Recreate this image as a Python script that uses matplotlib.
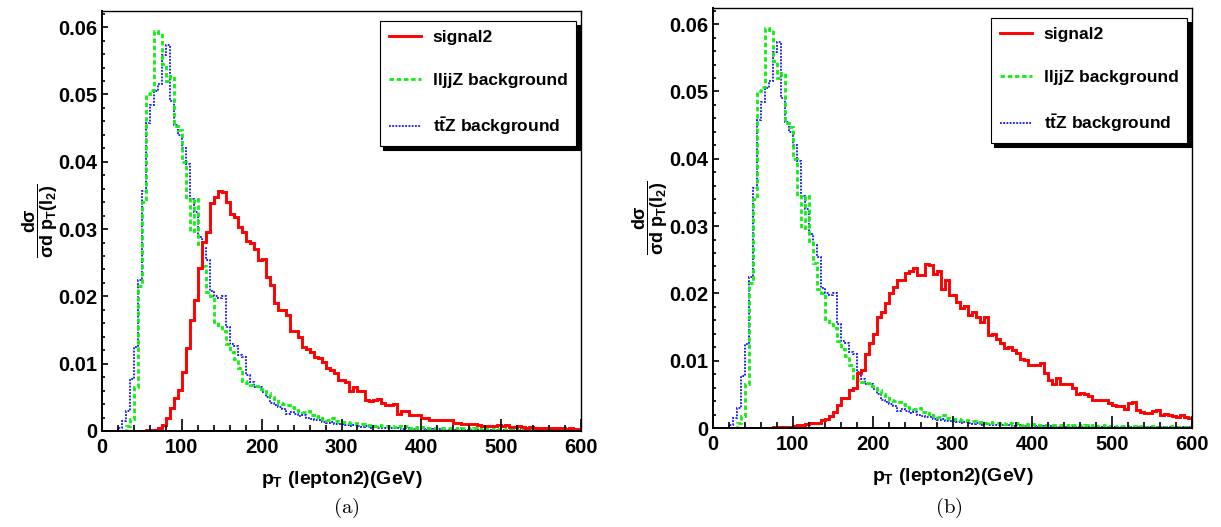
import numpy as np
import matplotlib
matplotlib.use('Agg')
import matplotlib.pyplot as plt
from matplotlib.ticker import MultipleLocator, FuncFormatter

plt.rcParams['font.family'] = 'Liberation Sans'
plt.rcParams['font.weight'] = 'bold'
plt.rcParams['axes.labelweight'] = 'bold'
plt.rcParams['mathtext.fontset'] = 'custom'
plt.rcParams['mathtext.rm'] = 'Liberation Sans:bold'
plt.rcParams['mathtext.it'] = 'Liberation Sans:bold'
plt.rcParams['mathtext.bf'] = 'Liberation Sans:bold'

# 5 GeV bins from 0 to 600 GeV
edges = np.arange(0, 605, 5)

# llZ background (same in both panels)
llz = [
    0, 0, 0, 0, 0, 0, 0.0008, 0.0018, 0.0065, 0.0215,
    0.0340, 0.0500, 0.0507, 0.0594, 0.0592, 0.0545, 0.0520, 0.0528, 0.0453, 0.0447,
    0.0400, 0.0345, 0.0297, 0.0345, 0.0278, 0.0245, 0.0207, 0.0200, 0.0162, 0.0155,
    0.0148, 0.0130, 0.0118, 0.0107, 0.0094, 0.0075, 0.0071, 0.0069, 0.0067, 0.0063,
    0.0060, 0.0056, 0.0051, 0.0048, 0.0041, 0.0040, 0.0038, 0.0036, 0.0031, 0.0030,
    0.0028, 0.0030, 0.0024, 0.0021, 0.0022, 0.0018, 0.0017, 0.0019, 0.0015, 0.0014,
    0.0013, 0.0014, 0.0012, 0.0012, 0.0010, 0.0011, 0.0009, 0.0009, 0.0008, 0.0009,
    0.0008, 0.0007, 0.0008, 0.0006, 0.0007, 0.0006, 0.0007, 0.0005, 0.0006, 0.0005,
    0.0006, 0.0005, 0.0004, 0.0005, 0.0004, 0.0005, 0.0004, 0.0004, 0.0005, 0.0003,
    0.0004, 0.0004, 0.0003, 0.0004, 0.0003, 0.0004, 0.0003, 0.0003, 0.0004, 0.0003,
    0.0003, 0.0002, 0.0003, 0.0003, 0.0002, 0.0003, 0.0002, 0.0003, 0.0002, 0.0002,
    0.0003, 0.0002, 0.0002, 0.0002, 0.0003, 0.0002, 0.0002, 0.0002, 0.0001, 0.0002,
]

# ttZ background (same in both panels)
ttz = [
    0, 0, 0, 0, 0.0004, 0.0015, 0.0030, 0.0078, 0.0125, 0.0225,
    0.0357, 0.0458, 0.0484, 0.0505, 0.0515, 0.0558, 0.0573, 0.0490, 0.0455, 0.0440,
    0.0420, 0.0397, 0.0345, 0.0326, 0.0288, 0.0272, 0.0254, 0.0208, 0.0200, 0.0198,
    0.0200, 0.0155, 0.0130, 0.0126, 0.0113, 0.0110, 0.0083, 0.0073, 0.0066, 0.0065,
    0.0058, 0.0050, 0.0042, 0.0038, 0.0036, 0.0033, 0.0026, 0.0028, 0.0025, 0.0022,
    0.0024, 0.0019, 0.0018, 0.0016, 0.0017, 0.0014, 0.0012, 0.0013, 0.0011, 0.0010,
    0.0010, 0.0009, 0.0008, 0.0009, 0.0007, 0.0006, 0.0007, 0.0005, 0.0006, 0.0005,
    0.0005, 0.0004, 0.0005, 0.0004, 0.0004, 0.0003, 0.0004, 0.0003, 0.0003, 0.0003,
    0.0003, 0.0002, 0.0003, 0.0002, 0.0003, 0.0002, 0.0002, 0.0002, 0.0002, 0.0001,
    0.0002, 0.0001, 0.0002, 0.0001, 0.0001, 0.0002, 0.0001, 0.0001, 0.0001, 0.0001,
    0.0001, 0.0001, 0.0002, 0.0001, 0.0001, 0.0001, 0.0001, 0.0001, 0.0001, 0.0001,
    0.0001, 0.0001, 0.0001, 0.0001, 0.0001, 0.0001, 0.0001, 0.0001, 0.0001, 0.0001,
]

# signal2, panel (a)
sig_a = [
    0, 0, 0, 0, 0, 0, 0, 0, 0, 0,
    0, 0.0001, 0.0001, 0.0002, 0.0005, 0.0009, 0.0019, 0.0034, 0.0049, 0.0061,
    0.0088, 0.0123, 0.0165, 0.0195, 0.0242, 0.0281, 0.0296, 0.0339, 0.0347, 0.0357,
    0.0355, 0.0340, 0.0323, 0.0318, 0.0303, 0.0296, 0.0283, 0.0279, 0.0270, 0.0254,
    0.0255, 0.0229, 0.0217, 0.0190, 0.0180, 0.0180, 0.0172, 0.0148, 0.0148, 0.0140,
    0.0125, 0.0122, 0.0118, 0.0110, 0.0108, 0.0103, 0.0093, 0.0091, 0.0086, 0.0076,
    0.0076, 0.0073, 0.0059, 0.0066, 0.0060, 0.0059, 0.0046, 0.0045, 0.0046, 0.0048,
    0.0042, 0.0039, 0.0039, 0.0040, 0.0026, 0.0029, 0.0029, 0.0024, 0.0024, 0.0024,
    0.0020, 0.0019, 0.0017, 0.0017, 0.0016, 0.0016, 0.0017, 0.0016, 0.0012, 0.0012,
    0.0011, 0.0010, 0.0010, 0.0011, 0.0009, 0.0007, 0.0007, 0.0007, 0.0008, 0.0009,
    0.0007, 0.0009, 0.0006, 0.0006, 0.0007, 0.0006, 0.0005, 0.0006, 0.0005, 0.0005,
    0.0005, 0.0004, 0.0005, 0.0004, 0.0004, 0.0004, 0.0003, 0.0004, 0.0003, 0.0003,
]

# signal2, panel (b)
sig_b = [
    0, 0, 0, 0, 0, 0, 0, 0, 0, 0,
    0, 0, 0, 0, 0, 0.0001, 0.0001, 0.0001, 0.0002, 0.0002,
    0.0003, 0.0004, 0.0005, 0.0006, 0.0007, 0.0007, 0.0008, 0.0012, 0.0013, 0.0018,
    0.0024, 0.0034, 0.0045, 0.0045, 0.0057, 0.0060, 0.0081, 0.0086, 0.0110, 0.0126,
    0.0140, 0.0165, 0.0173, 0.0185, 0.0200, 0.0210, 0.0220, 0.0220, 0.0230, 0.0234,
    0.0237, 0.0228, 0.0228, 0.0243, 0.0242, 0.0229, 0.0233, 0.0207, 0.0220, 0.0197,
    0.0197, 0.0187, 0.0179, 0.0182, 0.0168, 0.0173, 0.0165, 0.0158, 0.0165, 0.0138,
    0.0140, 0.0132, 0.0126, 0.0119, 0.0120, 0.0116, 0.0111, 0.0103, 0.0101, 0.0093,
    0.0093, 0.0093, 0.0096, 0.0081, 0.0072, 0.0066, 0.0074, 0.0066, 0.0065, 0.0065,
    0.0059, 0.0051, 0.0052, 0.0050, 0.0047, 0.0042, 0.0041, 0.0041, 0.0042, 0.0037,
    0.0034, 0.0033, 0.0033, 0.0028, 0.0037, 0.0039, 0.0027, 0.0024, 0.0023, 0.0023,
    0.0025, 0.0027, 0.0019, 0.0021, 0.0019, 0.0018, 0.0017, 0.0020, 0.0016, 0.0015,
]

labels = ['signal2', 'lljjZ background', r'$t\bar{t}Z$ background']
xlabel = r'$p_{T}$ (lepton2)(GeV)'
ylabel = r'$\dfrac{d\sigma}{\sigma d\ p_{T}(l_{2})}$'

W, H = 1221, 527
fig = plt.figure(figsize=(W / 100, H / 100), dpi=100)

# pixel boxes: left, top, right, bottom
panels = [
    (sig_a, (102, 11, 581, 431), 40, '(a)', 346),
    (sig_b, (713, 8, 1192, 428), 650, '(b)', 949),
]

for sig, (l, t, r, b), ylab_x, cap, cap_x in panels:
    ax = fig.add_axes([l / W, 1 - b / H, (r - l) / W, (b - t) / H])
    hb = ax.stairs(ttz, edges, color='#1010ff', lw=1.3, ls=(0, (1, 0.8)))
    hg = ax.stairs(llz, edges, color='#10ee10', lw=2.0, ls=(0, (1.6, 1.0)))
    hr = ax.stairs(sig, edges, color='#ff0000', lw=2.1)

    ax.set_xlim(0, 600)
    ax.set_ylim(0, 0.0624)
    ax.xaxis.set_major_locator(MultipleLocator(100))
    ax.xaxis.set_minor_locator(MultipleLocator(20))
    ax.yaxis.set_major_locator(MultipleLocator(0.01))
    ax.yaxis.set_minor_locator(MultipleLocator(0.002))
    ax.yaxis.set_major_formatter(FuncFormatter(lambda v, _: '0' if abs(v) < 1e-9 else f'{v:.2f}'))
    ax.tick_params(direction='in', which='both', top=False, right=False,
                   labelsize=14.5, width=1.2)
    ax.tick_params(axis='x', which='major', length=8.5, pad=5)
    ax.tick_params(axis='x', which='minor', length=4.3)
    ax.tick_params(axis='y', which='major', length=4, pad=3.5)
    ax.tick_params(axis='y', which='minor', length=2.3)
    for side in ['left', 'bottom']:
        ax.spines[side].set_linewidth(1.4)
    for side in ['top', 'right']:
        ax.spines[side].set_linewidth(1.0)

    ax.set_xlabel(xlabel, fontsize=14, labelpad=9)
    fig.text(ylab_x / W, 1 - ((t + b) / 2) / H, ylabel, rotation=90,
             ha='center', va='center', fontsize=13)

    leg = ax.legend([hr, hg, hb], labels, loc='upper right',
                    bbox_to_anchor=(0.99, 0.976), borderaxespad=0,
                    fontsize=12.5, frameon=True, fancybox=False,
                    shadow={'color': 'black', 'alpha': 1, 'ox': 2.5, 'oy': -2.5},
                    handlelength=1.85, handletextpad=0.7, labelspacing=1.6,
                    borderpad=0.5)
    leg.get_frame().set_edgecolor('black')
    leg.get_frame().set_linewidth(0.8)

    fig.text(cap_x / W, 1 - 508 / H, r'$\mathrm{' + cap + '}$',
             math_fontfamily='cm', fontsize=15, ha='center', va='center')

fig.savefig('out.png', dpi=100)
